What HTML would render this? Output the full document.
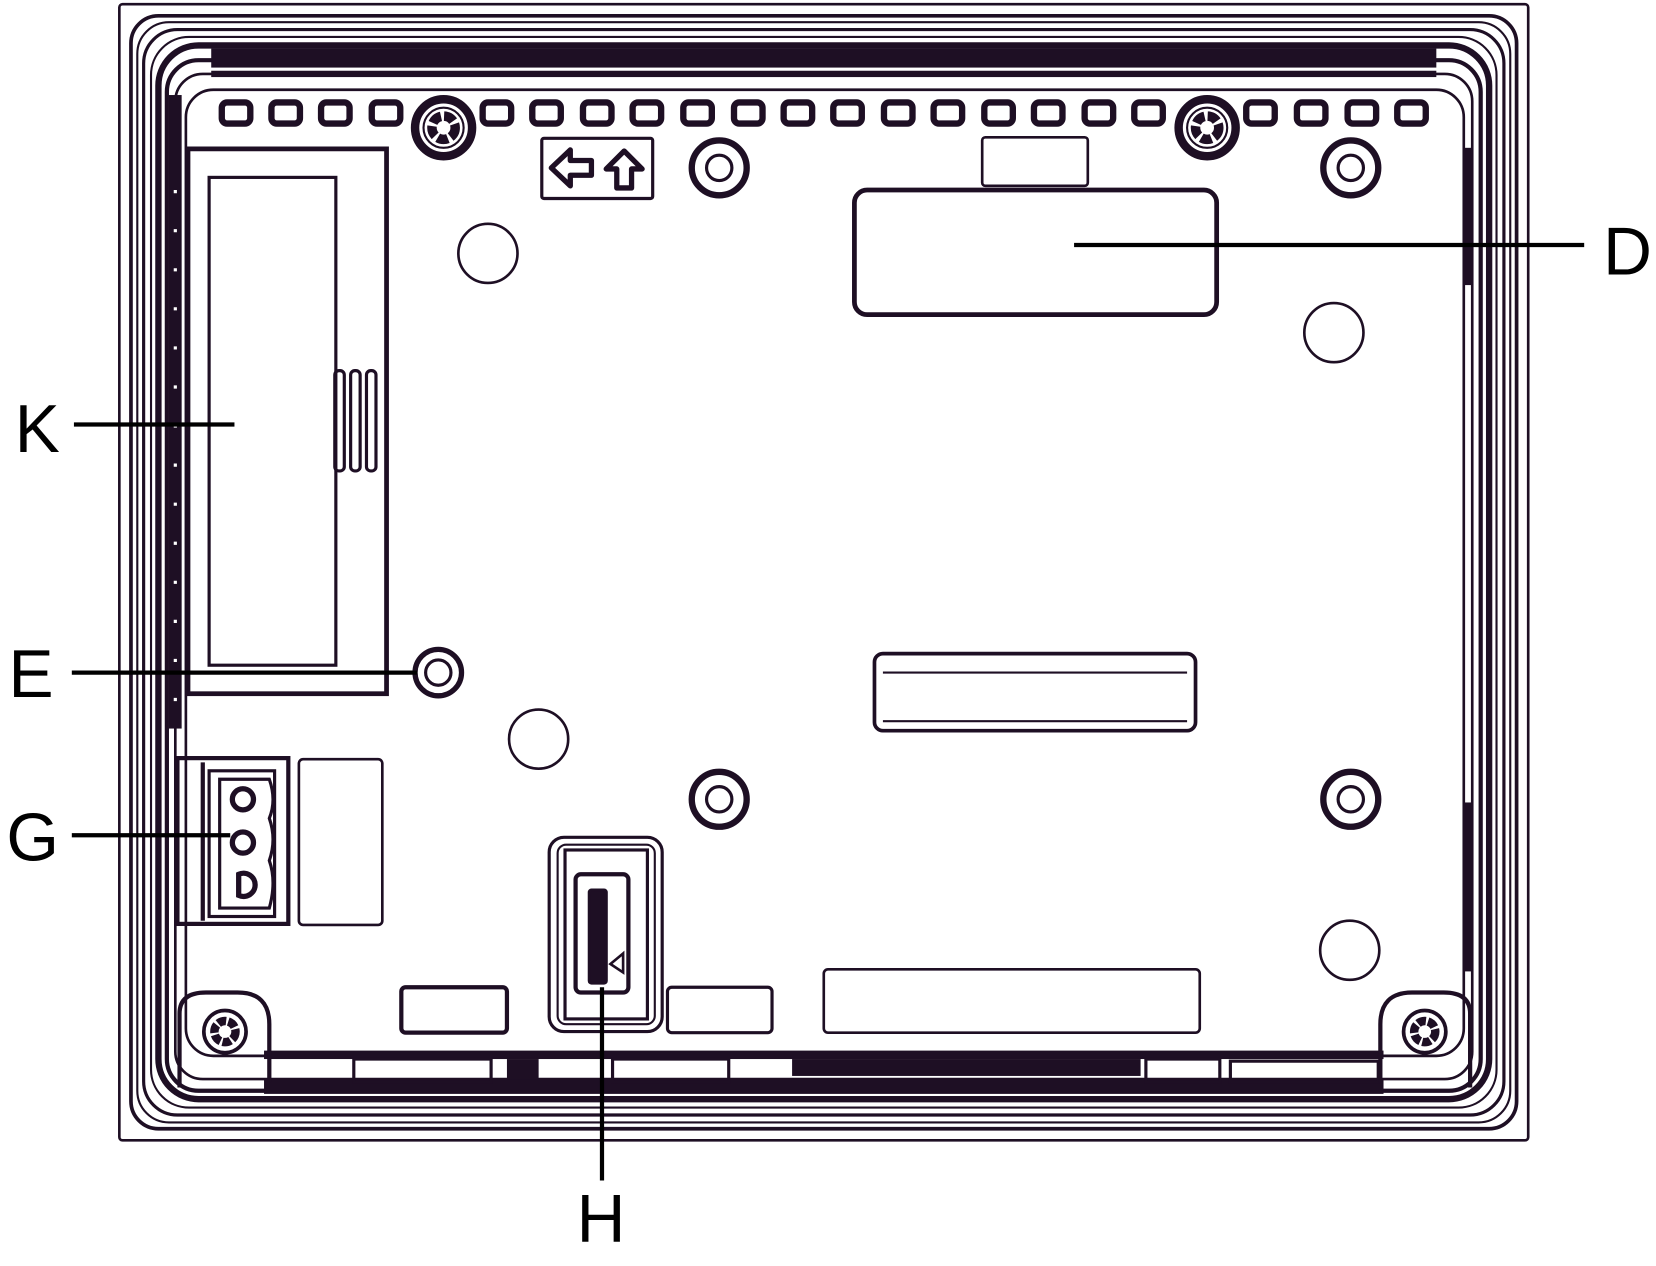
<!DOCTYPE html>
<html><head><meta charset="utf-8"><style>
html,body{margin:0;padding:0;background:#fff;width:1656px;height:1266px;overflow:hidden}
svg{display:block}
text{font-family:"Liberation Sans",Arial,sans-serif;fill:#000}
</style></head><body>
<svg width="1656" height="1266" viewBox="0 0 1568 1199" preserveAspectRatio="none" xmlns="http://www.w3.org/2000/svg">
<g fill="none" stroke="#1e0f24">
<rect x="113" y="4" width="1334" height="1076" rx="3" stroke-width="2.5"/>
<rect x="124" y="15" width="1312" height="1054" rx="26" stroke-width="3.5"/>
<rect x="130" y="21" width="1300" height="1042" rx="30" stroke-width="2"/>
<rect x="136" y="28" width="1288" height="1028" rx="32" stroke-width="3"/>
<rect x="143" y="35" width="1274" height="1014" rx="36" stroke-width="2"/>
<rect x="150" y="43" width="1260" height="998" rx="38" stroke-width="6"/>
<rect x="158" y="57" width="1244" height="976" rx="30" stroke-width="4"/>
<rect x="166" y="70" width="1228" height="952" rx="26" stroke-width="2.5"/>
<rect x="200" y="46" width="1160" height="18" fill="#1e0f24" stroke="none"/>
<rect x="200" y="67" width="1160" height="6" fill="#1e0f24" stroke="none"/>
<rect x="160" y="90" width="12" height="600" fill="#1e0f24" stroke="none"/>
<rect x="1386" y="140" width="8" height="130" fill="#1e0f24" stroke="none"/>
<rect x="1386" y="760" width="8" height="160" fill="#1e0f24" stroke="none"/>
<rect x="250" y="995" width="1060" height="8" fill="#1e0f24" stroke="none"/>
<rect x="250" y="1022" width="1060" height="14" fill="#1e0f24" stroke="none"/>
<rect x="480" y="1003" width="30" height="19" fill="#1e0f24" stroke="none"/>
<rect x="750" y="1003" width="330" height="16" fill="#1e0f24" stroke="none"/>
<rect x="335" y="1003" width="130" height="22" stroke-width="3"/>
<rect x="580" y="1003" width="110" height="22" stroke-width="3"/>
<rect x="1085" y="1003" width="70" height="22" stroke-width="3"/>
<rect x="1165" y="1005" width="140" height="20" stroke-width="3"/>
<rect x="176" y="85" width="1210" height="915" rx="26" stroke-width="2.5"/>
</g>
<line x1="166" y1="180" x2="166" y2="680" stroke="#fff" stroke-width="3" stroke-dasharray="3 34"/>
<g fill="none" stroke="#1e0f24" stroke-width="6">
<rect x="210" y="97" width="27" height="20" rx="5"/><rect x="257" y="97" width="27" height="20" rx="5"/>
<rect x="304" y="97" width="27" height="20" rx="5"/><rect x="352" y="97" width="27" height="20" rx="5"/>
<rect x="457" y="97" width="27" height="20" rx="5"/><rect x="504" y="97" width="27" height="20" rx="5"/>
<rect x="552" y="97" width="27" height="20" rx="5"/><rect x="599" y="97" width="27" height="20" rx="5"/>
<rect x="647" y="97" width="27" height="20" rx="5"/><rect x="695" y="97" width="27" height="20" rx="5"/>
<rect x="742" y="97" width="27" height="20" rx="5"/><rect x="789" y="97" width="27" height="20" rx="5"/>
<rect x="837" y="97" width="27" height="20" rx="5"/><rect x="884" y="97" width="27" height="20" rx="5"/>
<rect x="932" y="97" width="27" height="20" rx="5"/><rect x="979" y="97" width="27" height="20" rx="5"/>
<rect x="1027" y="97" width="27" height="20" rx="5"/><rect x="1074" y="97" width="27" height="20" rx="5"/>
<rect x="1180" y="97" width="27" height="20" rx="5"/><rect x="1228" y="97" width="27" height="20" rx="5"/>
<rect x="1276" y="97" width="27" height="20" rx="5"/><rect x="1323" y="97" width="27" height="20" rx="5"/>
</g>
<g fill="none" stroke="#1e0f24">
<circle cx="420" cy="121" r="27" stroke-width="8"/><circle cx="420" cy="121" r="19" stroke-width="2"/>
<circle cx="420" cy="121" r="11" stroke-width="9" stroke-dasharray="10 3"/>
<circle cx="1143" cy="121" r="27" stroke-width="8"/><circle cx="1143" cy="121" r="19" stroke-width="2"/>
<circle cx="1143" cy="121" r="11" stroke-width="9" stroke-dasharray="10 3"/>
<circle cx="213" cy="977" r="20" stroke-width="3.5"/><circle cx="213" cy="977" r="10" stroke-width="8" stroke-dasharray="8 2"/>
<circle cx="1349" cy="977" r="20" stroke-width="3.5"/><circle cx="1349" cy="977" r="10" stroke-width="8" stroke-dasharray="8 2"/>
<path d="M170 1030 V960 Q170 940 195 940 H225 Q255 940 255 970 V1025" stroke-width="4"/>
<path d="M1392 1030 V960 Q1392 940 1367 940 H1337 Q1307 940 1307 970 V1025" stroke-width="4"/>
<rect x="513" y="131" width="105" height="57" rx="2" stroke-width="3"/>
<path d="M522 159 L540 142 V152 H560 V166 H540 V176 Z" stroke-width="5" stroke-linejoin="round"/>
<path d="M591 143 L608 160 H598 V178 H584 V160 H574 Z" stroke-width="5" stroke-linejoin="round"/>
<circle cx="681" cy="159" r="26" stroke-width="6"/><circle cx="681" cy="159" r="12" stroke-width="3"/>
<circle cx="1279" cy="159" r="26" stroke-width="6"/><circle cx="1279" cy="159" r="12" stroke-width="3"/>
<circle cx="681" cy="757" r="26" stroke-width="6"/><circle cx="681" cy="757" r="12" stroke-width="3"/>
<circle cx="1279" cy="757" r="26" stroke-width="6"/><circle cx="1279" cy="757" r="12" stroke-width="3"/>
<circle cx="415" cy="637" r="22" stroke-width="5"/><circle cx="415" cy="637" r="12" stroke-width="3"/>
<circle cx="462" cy="240" r="28" stroke-width="2.5"/>
<circle cx="1263" cy="315" r="28" stroke-width="2.5"/>
<circle cx="510" cy="700" r="28" stroke-width="2.5"/>
<circle cx="1278" cy="900" r="28" stroke-width="2.5"/>
<rect x="930" y="130" width="100" height="46" rx="3" stroke-width="2.5"/>
<rect x="809" y="180" width="343" height="118" rx="12" stroke-width="4.5"/>
<rect x="178" y="141" width="188" height="516" stroke-width="4.5"/>
<rect x="198" y="168" width="120" height="462" stroke-width="3"/>
<rect x="317" y="351" width="9" height="95" rx="4" stroke-width="3"/>
<rect x="332" y="351" width="9" height="95" rx="4" stroke-width="3"/>
<rect x="347" y="351" width="9" height="95" rx="4" stroke-width="3"/>
<rect x="828" y="619" width="304" height="73" rx="8" stroke-width="3.5"/>
<line x1="836" y1="637" x2="1124" y2="637" stroke-width="2"/>
<line x1="836" y1="683" x2="1124" y2="683" stroke-width="2"/>
<rect x="168" y="718" width="105" height="157" stroke-width="4"/>
<line x1="192" y1="722" x2="192" y2="872" stroke-width="4"/>
<rect x="198" y="730" width="62" height="138" stroke-width="3"/>
<path d="M208 738 H255 Q262 758 255 775 Q262 795 255 815 Q262 835 255 860 H208 Z" stroke-width="3"/>
<circle cx="230" cy="757" r="10" stroke-width="5"/>
<circle cx="230" cy="798" r="10" stroke-width="5"/>
<path d="M226 828 A11 11 0 1 1 226 848 Z" stroke-width="5"/>
<rect x="283" y="719" width="79" height="157" rx="4" stroke-width="2.5"/>
<rect x="520" y="793" width="107" height="184" rx="14" stroke-width="3"/>
<rect x="528" y="800" width="92" height="170" rx="8" stroke-width="2"/>
<rect x="535" y="805" width="78" height="160" stroke-width="3"/>
<rect x="545" y="828" width="50" height="112" rx="5" stroke-width="4"/>
<rect x="558" y="843" width="16" height="88" rx="2" fill="#1e0f24" stroke-width="3"/>
<path d="M590 903 L578 913 L590 921 Z" stroke-width="2.5"/>
<rect x="380" y="935" width="100" height="43" rx="4" stroke-width="4"/>
<rect x="632" y="935" width="99" height="43" rx="4" stroke-width="3"/>
<rect x="780" y="918" width="356" height="60" rx="4" stroke-width="2.5"/>
</g>
<g stroke="#000" stroke-width="4">
<line x1="70" y1="402" x2="222" y2="402"/>
<line x1="68" y1="637" x2="395" y2="637"/>
<line x1="68" y1="791" x2="218" y2="791"/>
<line x1="1017" y1="232" x2="1500" y2="232"/>
<line x1="570" y1="935" x2="570" y2="1118"/>
</g>
<text x="14" y="428" font-size="64">K</text>
<text x="8" y="660" font-size="64">E</text>
<text x="6" y="815" font-size="64">G</text>
<text x="1518" y="260" font-size="64">D</text>
<text x="546" y="1176" font-size="64">H</text>
</svg>
</body></html>
